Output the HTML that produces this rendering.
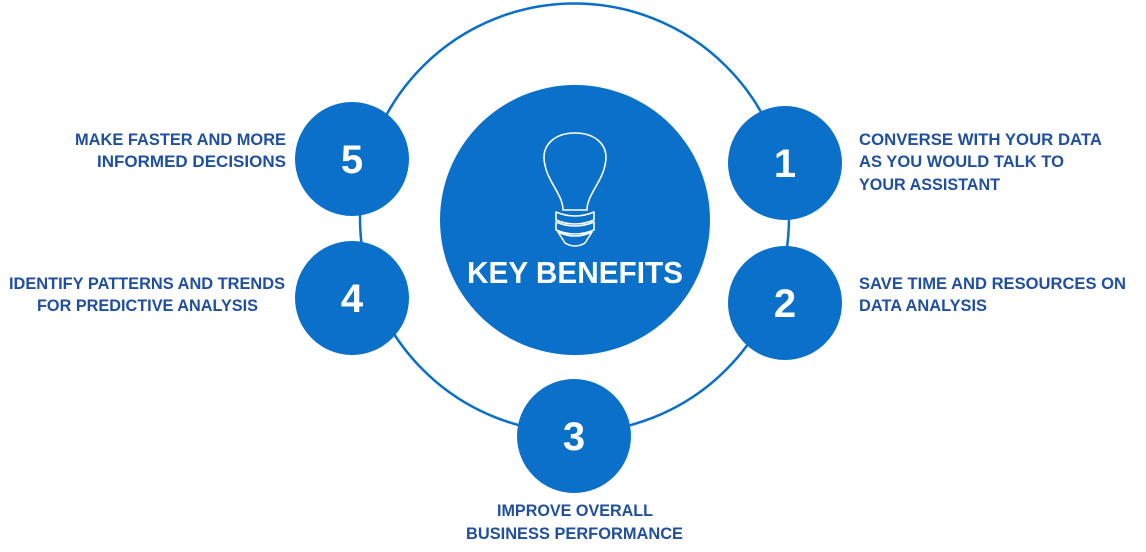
<!DOCTYPE html>
<html><head><meta charset="utf-8"><style>
html,body{margin:0;padding:0;background:#fff;}
svg{display:block}
text{font-family:"Liberation Sans",sans-serif;font-weight:bold;}
.t{fill:#1f4f9e;font-size:16.5px;}
.n{fill:#fff;font-size:40px;text-anchor:middle;}
</style></head><body>
<svg width="1146" height="552" viewBox="0 0 1146 552" xmlns="http://www.w3.org/2000/svg">
<rect width="1146" height="552" fill="#fff"/>
<circle cx="574.5" cy="218" r="214.5" fill="none" stroke="#0a6fc8" stroke-width="2.5"/>
<circle cx="575" cy="220" r="135" fill="#0a70c9"/>
<g fill="none" stroke="#fff" stroke-width="1.6" stroke-linejoin="round">
<path d="M563 210 C563 195 548 182 545 165 C540 145 555 133 575 133 C595 133 610 145 605 165 C602 182 587 195 587 210 Z"/>
<path d="M556 212 Q575 220 594 212 L594 220 Q575 228 556 220 Z"/>
<path d="M556 222 Q575 230 594 222 L594 230 Q575 238 556 230 Z"/>
<path d="M558 232 Q575 240 592 232 L585 243 Q575 249 565 243 Z"/>
</g>
<text x="467" y="283" fill="#fff" font-size="31" textLength="216" lengthAdjust="spacingAndGlyphs">KEY BENEFITS</text>

<g fill="#0a70c9">
<circle cx="785" cy="163" r="57"/>
<circle cx="785" cy="303" r="57"/>
<circle cx="574" cy="436" r="57"/>
<circle cx="352" cy="298" r="57"/>
<circle cx="352" cy="159" r="57"/>
</g>
<text class="n" x="785" y="177">1</text>
<text class="n" x="785" y="317">2</text>
<text class="n" x="574" y="450">3</text>
<text class="n" x="352" y="312">4</text>
<text class="n" x="352" y="173">5</text>

<text class="t" x="859" y="145" textLength="243" lengthAdjust="spacingAndGlyphs">CONVERSE WITH YOUR DATA</text>
<text class="t" x="859" y="167" textLength="205" lengthAdjust="spacingAndGlyphs">AS YOU WOULD TALK TO</text>
<text class="t" x="859" y="190" textLength="141" lengthAdjust="spacingAndGlyphs">YOUR ASSISTANT</text>
<text class="t" x="859" y="289" textLength="267" lengthAdjust="spacingAndGlyphs">SAVE TIME AND RESOURCES ON</text>
<text class="t" x="859" y="311" textLength="128" lengthAdjust="spacingAndGlyphs">DATA ANALYSIS</text>
<text class="t" x="497" y="516" textLength="156" lengthAdjust="spacingAndGlyphs">IMPROVE OVERALL</text>
<text class="t" x="466" y="539" textLength="217" lengthAdjust="spacingAndGlyphs">BUSINESS PERFORMANCE</text>
<text class="t" x="9" y="289" textLength="276" lengthAdjust="spacingAndGlyphs">IDENTIFY PATTERNS AND TRENDS</text>
<text class="t" x="37" y="311" textLength="221" lengthAdjust="spacingAndGlyphs">FOR PREDICTIVE ANALYSIS</text>
<text class="t" x="75" y="145" textLength="211" lengthAdjust="spacingAndGlyphs">MAKE FASTER AND MORE</text>
<text class="t" x="97" y="167" textLength="189" lengthAdjust="spacingAndGlyphs">INFORMED DECISIONS</text>
</svg>
</body></html>
